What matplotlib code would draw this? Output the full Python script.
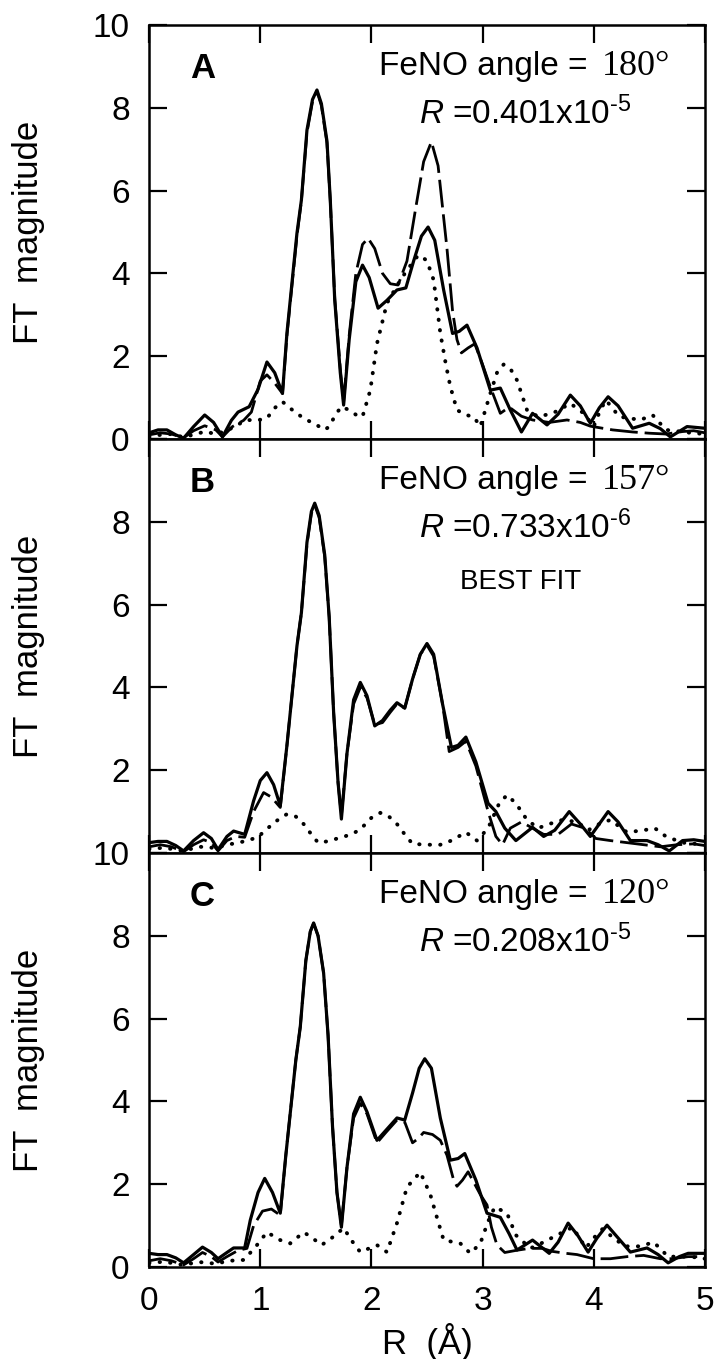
import numpy as np
import matplotlib
matplotlib.use("Agg")
import matplotlib.pyplot as plt

plt.rcParams['font.family'] = ['Liberation Sans', 'DejaVu Sans']
plt.rcParams['mathtext.fontset'] = 'custom'
plt.rcParams['mathtext.rm'] = 'Liberation Sans'
plt.rcParams['mathtext.it'] = 'Liberation Sans:italic'

# (R, magnitude) pairs: experiment (solid), fit (dashed), difference (dotted)
a_exp = [(0.00,0.15),(0.08,0.22),(0.16,0.22),(0.24,0.10),(0.31,0.02),(0.40,0.30),(0.50,0.58),
         (0.58,0.40),(0.66,0.05),(0.74,0.45),(0.80,0.65),(0.90,0.78),(0.98,1.20),(1.06,1.86),
         (1.13,1.60),(1.20,1.10),(1.24,2.56),(1.33,4.97),(1.37,5.77),(1.42,7.46),(1.47,8.20),
         (1.51,8.43),(1.55,8.10),(1.60,7.20),(1.63,5.77),(1.67,3.36),(1.72,1.60),(1.75,0.82),
         (1.80,2.40),(1.86,3.80),(1.92,4.20),(1.98,3.90),(2.06,3.16),(2.14,3.35),(2.23,3.60),
         (2.31,3.65),(2.38,4.30),(2.45,4.90),(2.51,5.12),(2.57,4.80),(2.65,3.60),(2.73,2.55),
         (2.79,2.60),(2.86,2.75),(2.95,2.20),(3.07,1.18),(3.16,1.23),(3.25,0.70),(3.35,0.17),
         (3.45,0.62),(3.58,0.34),(3.68,0.60),(3.79,1.06),(3.88,0.80),(3.97,0.38),(4.05,0.75),
         (4.13,1.02),(4.22,0.80),(4.35,0.26),(4.50,0.38),(4.60,0.25),(4.69,0.05),(4.84,0.30),
         (5.00,0.26)]
a_fit = [(0.00,0.10),(0.10,0.15),(0.20,0.12),(0.31,0.03),(0.40,0.20),(0.50,0.32),(0.60,0.22),
         (0.66,0.05),(0.75,0.30),(0.85,0.45),(0.92,0.65),(1.00,1.40),(1.06,1.55),(1.13,1.35),
         (1.20,1.10),(1.24,2.50),(1.33,4.90),(1.37,5.75),(1.42,7.40),(1.47,8.15),(1.51,8.40),
         (1.55,8.05),(1.60,7.15),(1.63,5.75),(1.67,3.40),(1.72,1.70),(1.75,0.90),(1.80,2.50),
         (1.86,4.00),(1.92,4.70),(1.97,4.85),(2.03,4.60),(2.10,4.00),(2.17,3.75),(2.24,3.72),
         (2.32,4.30),(2.40,5.60),(2.47,6.70),(2.54,7.18),(2.60,6.60),(2.64,5.60),(2.68,4.60),
         (2.73,3.10),(2.77,2.40),(2.81,2.08),(2.87,2.20),(2.93,2.30),(3.00,1.80),(3.07,1.26),
         (3.16,0.62),(3.24,0.77),(3.35,0.55),(3.45,0.46),(3.60,0.40),(3.76,0.46),(3.88,0.40),
         (3.97,0.31),(4.08,0.26),(4.17,0.22),(4.35,0.17),(4.50,0.14),(4.65,0.12),(4.80,0.18),
         (4.90,0.20),(5.00,0.15)]
a_diff = [(0.00,0.05),(0.10,0.10),(0.20,0.12),(0.30,0.05),(0.40,0.10),(0.50,0.18),(0.60,0.12),
          (0.70,0.20),(0.80,0.35),(0.88,0.46),(0.97,0.45),(1.06,0.50),(1.13,0.75),(1.20,0.90),
          (1.28,0.72),(1.39,0.50),(1.50,0.35),(1.58,0.22),(1.62,0.30),(1.68,0.60),(1.73,0.78),
          (1.80,0.70),(1.88,0.55),(1.92,0.54),(1.99,1.18),(2.05,2.30),(2.14,3.28),(2.26,3.84),
          (2.34,4.15),(2.41,4.40),(2.44,4.44),(2.50,4.30),(2.56,3.84),(2.62,2.56),(2.67,1.80),
          (2.71,1.27),(2.77,0.70),(2.85,0.58),(2.92,0.54),(2.98,0.30),(3.07,1.10),(3.13,1.60),
          (3.19,1.80),(3.25,1.70),(3.31,1.42),(3.40,0.70),(3.50,0.54),(3.63,0.62),(3.72,0.75),
          (3.79,0.86),(3.91,0.62),(4.00,0.30),(4.06,0.70),(4.11,0.94),(4.23,0.54),(4.42,0.46),
          (4.53,0.58),(4.65,0.22),(4.78,0.18),(4.87,0.15),(5.00,0.12)]

b_exp = [(0.00,0.25),(0.08,0.28),(0.16,0.28),(0.24,0.18),(0.31,0.05),(0.40,0.30),(0.49,0.49),
         (0.56,0.35),(0.62,0.08),(0.70,0.40),(0.76,0.53),(0.86,0.45),(0.94,1.26),(1.00,1.75),
         (1.06,1.94),(1.12,1.65),(1.18,1.14),(1.24,2.60),(1.33,5.00),(1.37,5.80),(1.42,7.50),
         (1.46,8.25),(1.49,8.45),(1.53,8.15),(1.58,7.20),(1.62,5.70),(1.66,3.40),(1.70,1.70),
         (1.73,0.82),(1.78,2.40),(1.84,3.70),(1.90,4.12),(1.96,3.80),(2.03,3.07),(2.10,3.20),
         (2.17,3.45),(2.23,3.63),(2.30,3.50),(2.37,4.20),(2.44,4.80),(2.50,5.06),(2.56,4.80),
         (2.64,3.60),(2.72,2.55),(2.78,2.60),(2.85,2.80),(2.94,2.20),(3.05,1.20),(3.12,1.00),
         (3.20,0.60),(3.30,0.30),(3.45,0.62),(3.55,0.40),(3.65,0.55),(3.78,1.00),(3.88,0.70),
         (3.97,0.40),(4.05,0.70),(4.13,1.00),(4.22,0.75),(4.33,0.30),(4.48,0.30),(4.58,0.20),
         (4.68,0.05),(4.80,0.30),(4.90,0.32),(5.00,0.28)]
b_fit = [(0.00,0.15),(0.10,0.20),(0.20,0.15),(0.31,0.03),(0.40,0.20),(0.49,0.32),(0.56,0.25),
         (0.62,0.05),(0.70,0.30),(0.78,0.40),(0.86,0.38),(0.94,1.00),(1.03,1.46),(1.10,1.35),
         (1.18,1.10),(1.24,2.60),(1.33,5.00),(1.37,5.80),(1.42,7.45),(1.46,8.20),(1.49,8.40),
         (1.53,8.10),(1.58,7.15),(1.62,5.70),(1.66,3.40),(1.70,1.70),(1.73,0.90),(1.78,2.40),
         (1.84,3.60),(1.90,4.00),(1.96,3.75),(2.03,3.10),(2.10,3.15),(2.17,3.40),(2.23,3.60),
         (2.30,3.50),(2.37,4.20),(2.44,4.80),(2.50,5.02),(2.56,4.75),(2.64,3.60),(2.70,2.45),
         (2.78,2.55),(2.85,2.70),(2.94,2.10),(3.05,1.00),(3.12,0.40),(3.18,0.20),(3.25,0.60),
         (3.35,0.75),(3.45,0.60),(3.55,0.45),(3.68,0.45),(3.80,0.70),(3.92,0.60),(4.02,0.35),
         (4.15,0.30),(4.30,0.25),(4.45,0.20),(4.60,0.15),(4.75,0.20),(4.90,0.22),(5.00,0.18)]
b_diff = [(0.00,0.10),(0.10,0.12),(0.20,0.10),(0.30,0.05),(0.46,0.15),(0.60,0.12),(0.70,0.20),
          (0.81,0.25),(0.97,0.37),(1.05,0.55),(1.12,0.73),(1.24,0.94),(1.32,0.88),(1.39,0.70),
          (1.46,0.45),(1.52,0.25),(1.60,0.28),(1.72,0.37),(1.82,0.45),(1.90,0.57),(2.00,0.85),
          (2.08,0.97),(2.15,0.90),(2.23,0.70),(2.30,0.45),(2.37,0.22),(2.50,0.20),(2.62,0.20),
          (2.72,0.30),(2.85,0.50),(2.95,0.30),(3.05,0.60),(3.15,1.20),(3.22,1.40),(3.30,1.20),
          (3.40,0.80),(3.50,0.60),(3.60,0.70),(3.72,0.80),(3.85,0.75),(3.95,0.55),(4.05,0.70),
          (4.15,0.80),(4.30,0.50),(4.45,0.55),(4.55,0.60),(4.65,0.40),(4.80,0.25),(5.00,0.20)]

c_exp = [(0.00,0.33),(0.08,0.30),(0.16,0.30),(0.24,0.22),(0.31,0.10),(0.40,0.30),(0.48,0.48),
         (0.56,0.35),(0.62,0.20),(0.70,0.35),(0.76,0.46),(0.86,0.46),(0.91,1.13),(0.98,1.80),
         (1.04,2.14),(1.11,1.80),(1.18,1.30),(1.23,2.70),(1.32,5.00),(1.36,5.80),(1.41,7.40),
         (1.45,8.10),(1.48,8.31),(1.52,8.00),(1.57,7.10),(1.61,5.60),(1.65,3.40),(1.69,1.80),
         (1.73,0.96),(1.78,2.40),(1.84,3.70),(1.90,4.10),(1.96,3.75),(2.05,3.06),(2.13,3.30),
         (2.23,3.60),(2.30,3.55),(2.37,4.20),(2.43,4.80),(2.48,5.03),(2.54,4.80),(2.62,3.60),
         (2.71,2.58),(2.78,2.62),(2.84,2.74),(2.94,2.10),(3.04,1.30),(3.16,1.20),(3.24,0.80),
         (3.31,0.41),(3.45,0.65),(3.60,0.33),(3.68,0.60),(3.77,1.06),(3.86,0.75),(3.95,0.36),
         (4.03,0.70),(4.12,1.01),(4.22,0.70),(4.33,0.36),(4.48,0.46),(4.58,0.30),(4.67,0.10),
         (4.77,0.25),(4.85,0.33),(5.00,0.33)]
c_fit = [(0.00,0.15),(0.10,0.20),(0.20,0.15),(0.31,0.05),(0.40,0.20),(0.48,0.35),(0.56,0.25),
         (0.62,0.12),(0.70,0.25),(0.80,0.40),(0.88,0.45),(0.94,1.00),(1.02,1.35),(1.10,1.40),
         (1.18,1.25),(1.23,2.70),(1.32,5.00),(1.36,5.80),(1.41,7.40),(1.45,8.10),(1.48,8.30),
         (1.52,8.00),(1.57,7.10),(1.61,5.60),(1.65,3.40),(1.69,1.80),(1.73,1.00),(1.78,2.40),
         (1.84,3.60),(1.90,3.95),(1.96,3.70),(2.05,3.00),(2.13,3.25),(2.23,3.55),(2.30,3.50),
         (2.37,3.00),(2.42,3.10),(2.47,3.25),(2.55,3.20),(2.62,3.06),(2.68,2.70),(2.74,2.10),
         (2.77,1.95),(2.82,2.10),(2.87,2.30),(2.98,1.75),(3.04,1.50),(3.08,0.96),(3.13,0.53),
         (3.20,0.35),(3.30,0.40),(3.42,0.45),(3.54,0.45),(3.62,0.38),(3.75,0.33),(3.85,0.30),
         (4.00,0.20),(4.15,0.20),(4.30,0.25),(4.45,0.28),(4.60,0.20),(4.70,0.20),(4.85,0.25),
         (5.00,0.25)]
c_diff = [(0.00,0.10),(0.10,0.12),(0.20,0.10),(0.30,0.05),(0.45,0.12),(0.60,0.08),(0.72,0.15),
          (0.85,0.17),(0.95,0.46),(1.06,0.84),(1.18,0.65),(1.27,0.57),(1.39,0.84),(1.46,0.72),
          (1.55,0.53),(1.62,0.65),(1.75,0.94),(1.84,0.57),(1.90,0.36),(2.05,0.53),(2.14,0.36),
          (2.23,1.06),(2.32,1.93),(2.44,2.29),(2.53,1.75),(2.60,1.10),(2.65,0.65),(2.80,0.57),
          (2.89,0.33),(2.98,0.57),(3.05,1.10),(3.11,1.45),(3.22,1.30),(3.30,0.77),(3.43,0.45),
          (3.55,0.60),(3.67,0.77),(3.81,0.96),(3.93,0.46),(4.00,0.70),(4.08,0.92),(4.18,0.70),
          (4.28,0.50),(4.42,0.50),(4.54,0.60),(4.67,0.25),(4.87,0.25),(5.00,0.20)]

letters = ['A', 'B', 'C']
angles = ['180°', '157°', '120°']
r_mant = ['0.401', '0.733', '0.208']
r_exp10 = ['-5', '-6', '-5']

fig, axes = plt.subplots(3, 1, figsize=(7.17, 13.59), dpi=100, sharex=True)
fig.subplots_adjust(left=0.208, right=0.983, top=0.9816, bottom=0.0677, hspace=0)

curves = [(a_exp, a_fit, a_diff), (b_exp, b_fit, b_diff), (c_exp, c_fit, c_diff)]

for i, ax in enumerate(axes):
    e, f, d = [np.array(c).T for c in curves[i]]
    ax.plot(e[0], e[1], color='black', lw=2.3, solid_joinstyle='round')
    ax.plot(f[0], f[1], color='black', lw=2.0, dashes=(10, 2.5))
    ax.plot(d[0], d[1], color='black', lw=2.8, linestyle=(0, (0.1, 2.6)),
            dash_capstyle='round')

    ax.set_xlim(0, 5)
    ax.set_ylim(0, 10)
    ax.set_xticks(range(6))
    ax.set_yticks(range(0, 11, 2))
    if i == 1:
        ax.set_yticklabels(['', '2', '4', '6', '8', ''])
    ax.tick_params(direction='in', length=13, width=1.6, top=True, right=True,
                   labelsize=24, pad=14)
    for s in ax.spines.values():
        s.set_linewidth(1.8)
    ax.set_ylabel('FT  magnitude', fontsize=25)
    ax.yaxis.set_label_coords(-0.187, 0.5)

    ax.text(0.48, 8.95, letters[i], fontsize=25, fontweight='bold', ha='center', va='center')
    ax.text(3.94, 9.0, 'FeNO angle =', fontsize=24, ha='right', va='center')
    ax.text(4.07, 9.0, angles[i], fontsize=26, family='Liberation Serif',
            ha='left', va='center')
    ax.text(3.38, 7.85, r'$\mathit{R}$ =' + r_mant[i] + 'x10$^{\\text{' + r_exp10[i] + '}}$',
            fontsize=24, ha='center', va='center')

axes[1].text(3.34, 6.55, 'BEST FIT', fontsize=20, ha='center', va='center')
axes[2].set_xlabel('R  (Å)', fontsize=25, labelpad=4)

fig.savefig('out.png', dpi=100)
